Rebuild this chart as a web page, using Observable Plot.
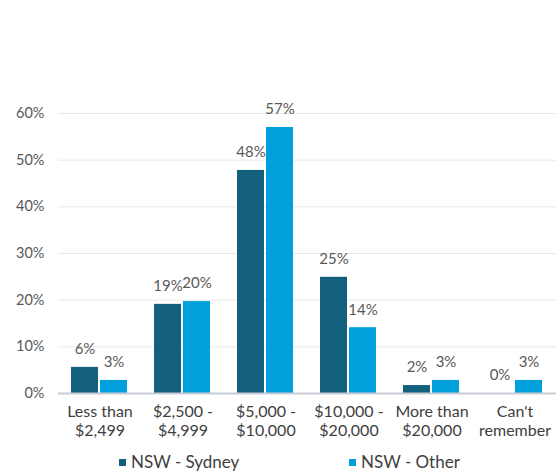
<!DOCTYPE html>
<html>
<head>
<meta charset="utf-8">
<script src="https://cdn.jsdelivr.net/npm/d3@7"></script>
<script src="https://cdn.jsdelivr.net/npm/@observablehq/plot@0.6"></script>
<style>
  html, body { margin: 0; padding: 0; background: #fff; }
  #wrap { position: relative; width: 558px; height: 474px; font-family: Lato, "Open Sans", sans-serif; }
  #legend { position: absolute; top: 450px; left: 0; width: 558px; height: 24px; font-size: 17px; color: #404040; }
  .item { position: absolute; top: 0; line-height: 24px; white-space: nowrap; }
  .sw { display: inline-block; width: 7px; height: 7px; margin-right: 5px; vertical-align: middle; position: relative; top: -1px; }
</style>
</head>
<body>
<div id="wrap">
  <div id="chart"></div>
  <div id="legend"></div>
</div>
<script>
const categories = ["Less than\n$2,499", "$2,500 -\n$4,999", "$5,000 -\n$10,000", "$10,000 -\n$20,000", "More than\n$20,000", "Can't\nremember"];
const seriesNames = ["NSW - Sydney", "NSW - Other"];
const sydney = [5.6, 19.1, 47.8, 24.9, 1.7, 0];
const other = [2.8, 19.7, 57.0, 14.1, 2.8, 2.8];
const colors = ["#135f7e", "#00a0dc"];
const yTicks = [0, 10, 20, 30, 40, 50, 60];

const data = [];
categories.forEach((c, i) => {
  data.push({cat: c, series: seriesNames[0], value: sydney[i] / 100});
  data.push({cat: c, series: seriesNames[1], value: other[i] / 100});
});

const chart = Plot.plot({
  width: 558,
  height: 450,
  marginTop: 113,
  marginBottom: 57,
  marginLeft: 57,
  marginRight: 1,
  style: {fontFamily: "Lato, 'Open Sans', sans-serif", background: "#fff"},
  fx: {domain: categories, padding: 0, label: null, axis: null},
  x: {domain: seriesNames, paddingInner: 0.067, paddingOuter: 0.425, axis: null},
  y: {domain: [0, 0.6], label: null, axis: null},
  color: {domain: seriesNames, range: colors},
  marks: [
    Plot.gridY(yTicks.map(d => d / 100), {stroke: "#e8e8e8", strokeOpacity: 1, strokeWidth: 1}),
    Plot.axisY(yTicks.map(d => d / 100), {tickSize: 0, tickPadding: 14, tickFormat: d => Math.round(d * 100) + "%", fontSize: 14.5, fill: "#595959", label: null}),
    Plot.axisFx({anchor: "bottom", tickSize: 0, tickPadding: 10, fontSize: 16, fill: "#404040", lineHeight: 1.2, label: null}),
    Plot.barY(data, {fx: "cat", x: "series", y: "value", fill: "series"}),
    Plot.ruleY([0], {stroke: "#c9ccd4", strokeWidth: 2}),
    Plot.text(data, {fx: "cat", x: "series", y: "value", text: d => Math.round(d.value * 100) + "%", dy: -18, fontSize: 15, fill: "#595959"})
  ]
});
document.getElementById("chart").appendChild(chart);

const legend = document.getElementById("legend");
const lefts = [119, 349];
seriesNames.forEach((s, i) => {
  const it = document.createElement("div");
  it.className = "item";
  it.style.left = lefts[i] + "px";
  const sw = document.createElement("span");
  sw.className = "sw";
  sw.style.background = colors[i];
  it.appendChild(sw);
  it.appendChild(document.createTextNode(s));
  legend.appendChild(it);
});
</script>
</body>
</html>
